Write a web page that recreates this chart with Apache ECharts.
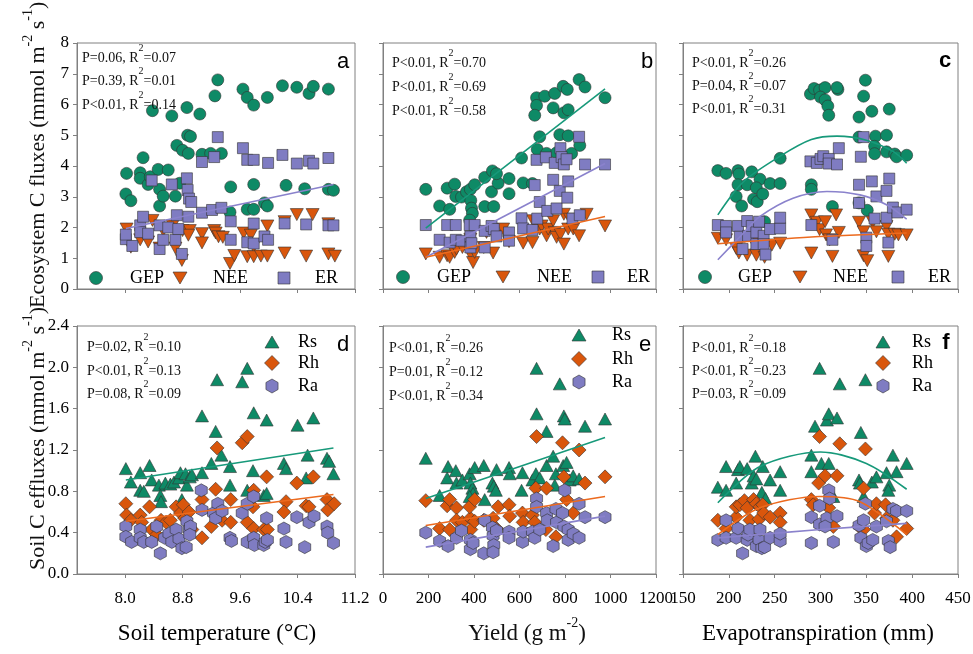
<!DOCTYPE html>
<html>
<head>
<meta charset="utf-8">
<title>Ecosystem and soil C fluxes</title>
<script src="https://cdn.jsdelivr.net/npm/echarts@6.0.0/dist/echarts.min.js"></script>
<style>
  html, body { margin: 0; padding: 0; background: #fff; }
  #chart { width: 973px; height: 654px; }
</style>
</head>
<body>
<div id="chart"></div>
<script>
// ---- tick labels ----
const tempTicks = [8.0, 8.8, 9.6, 10.4, 11.2];

// ---- panel a: soil temperature vs ecosystem C fluxes ----
const tempGEP = [[8.01,3.09],[8.02,3.76],[8.08,2.87],[8.21,3.78],[8.25,4.27],[8.21,3.60],[8.32,3.40],[8.35,3.65],[8.38,5.80],[8.46,3.89],[8.48,3.24],[8.48,2.70],[8.53,3.02],[8.60,3.87],[8.65,5.63],[8.70,3.02],[8.72,4.67],[8.76,3.44],[8.80,4.51],[8.86,5.90],[8.87,5.00],[8.88,4.41],[8.91,4.96],[9.04,5.69],[9.07,4.38],[9.19,4.41],[9.25,6.28],[9.29,6.80],[9.34,4.41],[9.47,3.32],[9.46,2.50],[9.64,6.50],[9.70,6.23],[9.70,2.59],[9.79,5.98],[9.79,3.40],[9.79,2.59],[9.94,2.80],[9.98,2.70],[9.98,6.23],[10.19,6.61],[10.24,3.37],[10.39,6.56],[10.50,3.26],[10.56,6.36],[10.62,6.59],[10.83,6.50],[10.83,3.24],[10.90,3.21]];
const tempNEE = [[8.02,1.95],[8.08,1.36],[8.21,1.60],[8.32,1.53],[8.38,2.23],[8.48,1.33],[8.53,1.90],[8.66,2.05],[8.70,1.33],[8.79,0.93],[8.80,1.90],[8.90,1.90],[8.88,1.75],[9.07,1.80],[9.07,1.50],[9.24,1.90],[9.26,1.82],[9.30,1.70],[9.36,1.68],[9.46,0.83],[9.52,1.09],[9.65,1.82],[9.70,1.05],[9.75,1.75],[9.79,1.38],[9.79,1.05],[9.89,1.07],[9.98,1.07],[9.98,2.05],[10.22,2.19],[10.22,1.17],[10.39,2.42],[10.52,1.07],[10.61,2.42],[10.83,2.12],[10.83,1.14],[10.92,1.07]];
const tempER = [[8.01,1.62],[8.01,1.77],[8.10,1.40],[8.21,2.07],[8.25,2.35],[8.21,1.85],[8.37,3.53],[8.32,1.80],[8.48,2.07],[8.48,1.30],[8.53,1.60],[8.60,2.00],[8.65,3.40],[8.70,1.60],[8.72,2.40],[8.74,1.95],[8.79,1.14],[8.86,3.60],[8.87,3.22],[8.89,2.94],[8.92,2.83],[8.88,2.35],[9.07,4.13],[9.07,2.48],[9.21,2.57],[9.24,4.29],[9.29,4.94],[9.34,2.64],[9.47,2.20],[9.47,1.60],[9.64,4.58],[9.70,4.20],[9.70,1.52],[9.79,4.20],[9.79,2.13],[9.79,1.48],[9.94,1.71],[9.99,4.10],[9.99,1.60],[10.19,4.36],[10.22,2.13],[10.39,4.08],[10.52,2.10],[10.56,4.17],[10.62,4.08],[10.83,4.26],[10.83,2.07],[10.90,2.07]];
const tempERFit = [[8.01,1.97],[10.90,3.40]];

// ---- panel b: yield vs ecosystem C fluxes ----
const yieldGEP = [[188,3.24],[249,2.70],[282,3.28],[293,2.59],[315,3.41],[320,3.01],[345,2.99],[367,3.16],[384,3.24],[386,2.88],[389,2.63],[393,2.46],[381,2.24],[403,3.39],[447,3.63],[447,2.68],[477,3.16],[481,3.84],[487,2.68],[506,3.44],[499,3.75],[554,3.59],[554,3.10],[609,4.26],[616,3.45],[657,3.43],[675,6.22],[675,5.97],[667,5.65],[678,4.54],[689,4.95],[711,6.27],[719,4.41],[748,5.89],[755,6.36],[763,4.43],[777,5.02],[792,6.59],[795,5.73],[810,6.49],[814,4.98],[814,5.83],[829,4.41],[862,6.81],[865,4.67],[888,6.57],[976,6.22]];
const yieldNEE = [[188,1.14],[249,1.03],[282,1.08],[293,1.03],[315,1.19],[323,1.30],[349,1.35],[384,1.14],[396,0.86],[403,1.19],[384,1.62],[443,1.35],[455,1.84],[484,1.17],[496,1.73],[528,1.95],[554,1.54],[616,1.49],[657,1.51],[660,2.22],[689,1.95],[697,2.05],[719,1.73],[726,1.95],[748,2.22],[755,1.84],[763,1.68],[780,1.78],[795,1.46],[795,2.43],[814,1.95],[822,2.27],[836,1.95],[862,1.73],[895,2.43],[976,2.05]];
const yieldER = [[188,2.08],[249,1.60],[282,2.08],[293,1.51],[320,2.08],[320,1.60],[345,1.57],[381,2.08],[384,1.71],[384,1.35],[389,1.49],[403,2.08],[447,1.89],[447,1.35],[477,2.05],[487,1.95],[499,1.71],[554,1.84],[554,1.57],[609,2.30],[616,1.97],[657,1.92],[667,3.38],[675,4.20],[678,2.29],[689,2.83],[716,4.28],[722,2.54],[748,3.55],[755,4.10],[763,2.62],[777,3.19],[780,4.58],[785,4.29],[795,4.05],[807,4.22],[810,2.97],[814,3.50],[833,2.29],[862,4.95],[865,2.40],[888,4.05],[976,4.05]];
const yieldGEPFit = [[188,1.98],[976,6.51]];
const yieldERFit = [[188,1.03],[976,4.08]];
const yieldNEEFit = [[188,1.03],[976,2.36]];

// ---- panel c: evapotranspiration vs ecosystem C fluxes ----
const etGEP = [[188,3.85],[197,3.76],[210,3.85],[211,3.74],[225,3.81],[234,3.57],[210,3.39],[220,3.39],[208,3.01],[214,2.70],[230,3.29],[227,2.92],[231,2.84],[237,3.09],[245,3.43],[256,3.43],[256,4.25],[239,2.19],[290,3.39],[290,3.24],[289,6.34],[293,6.52],[299,6.47],[305,6.55],[319,6.49],[318,6.55],[300,6.24],[305,6.15],[308,5.95],[309,5.65],[313,2.68],[342,5.59],[347,6.27],[349,6.79],[356,5.78],[375,5.85],[342,4.94],[360,4.97],[372,5.00],[359,4.64],[359,4.40],[372,4.46],[381,4.39],[383,4.30],[394,4.35],[342,2.80],[351,2.56]];
const etNEE = [[188,1.65],[197,1.60],[208,1.32],[211,1.17],[220,1.10],[227,1.53],[230,1.10],[237,1.32],[239,1.03],[247,1.43],[256,1.49],[290,2.41],[290,1.17],[296,2.17],[299,1.93],[305,2.19],[306,1.76],[310,1.60],[313,1.06],[317,2.41],[320,1.84],[342,2.17],[347,1.86],[347,1.08],[351,0.92],[357,2.17],[361,1.86],[372,2.03],[374,1.78],[374,1.06],[381,1.78],[385,1.76],[394,1.76]];
const etER = [[188,2.08],[197,2.05],[197,1.84],[210,2.05],[212,1.70],[215,1.30],[220,2.21],[221,1.73],[225,2.05],[230,1.84],[230,1.46],[233,2.19],[238,1.73],[238,1.46],[240,1.12],[245,1.95],[256,1.97],[256,2.32],[290,2.08],[289,4.15],[296,4.10],[300,4.23],[303,4.32],[309,4.23],[309,4.08],[318,4.05],[320,4.58],[313,1.60],[342,3.39],[344,4.30],[347,4.94],[342,2.80],[350,1.67],[350,1.40],[356,3.50],[361,3.01],[359,2.29],[372,3.19],[375,3.59],[372,2.32],[379,2.65],[384,2.49],[394,2.58],[374,1.51]];
const etGEPFit = [[188,2.41],[216,3.49],[256,4.32],[290,4.86],[318,4.97],[350,4.84],[380,4.46],[394,4.09]];
const etERFit = [[188,0.95],[216,1.82],[234,2.36],[270,2.95],[307,3.17],[343,3.06],[372,2.74],[394,2.27]];
const etNEEFit = [[188,1.47],[290,1.69],[394,1.82]];

// ---- panel d: soil temperature vs soil C effluxes ----
const tempRs = [[8.01,1.02],[8.08,0.89],[8.21,0.98],[8.21,0.81],[8.26,0.80],[8.34,1.05],[8.37,0.91],[8.47,0.86],[8.49,0.76],[8.50,0.70],[8.56,0.88],[8.63,0.87],[8.68,0.89],[8.75,0.93],[8.77,0.98],[8.79,0.72],[8.84,0.97],[8.86,0.86],[8.90,0.94],[8.93,0.96],[9.07,0.98],[9.07,1.53],[9.20,1.07],[9.26,1.38],[9.28,1.88],[9.34,1.15],[9.46,1.04],[9.46,0.86],[9.63,1.86],[9.70,1.99],[9.70,0.81],[9.78,1.00],[9.79,1.56],[9.93,0.76],[9.97,0.78],[9.97,1.49],[10.21,1.07],[10.24,1.02],[10.40,1.44],[10.52,0.93],[10.54,1.15],[10.62,1.51],[10.81,1.12],[10.84,1.09],[10.90,0.97]];
const tempRh = [[8.01,0.68],[8.02,0.57],[8.08,0.52],[8.21,0.57],[8.23,0.50],[8.34,0.65],[8.37,0.43],[8.44,0.38],[8.50,0.52],[8.57,0.50],[8.63,0.52],[8.71,0.65],[8.77,0.59],[8.81,0.67],[8.83,0.54],[8.89,0.60],[8.93,0.43],[9.07,0.72],[9.07,0.35],[9.20,0.46],[9.26,0.82],[9.28,1.22],[9.35,0.52],[9.47,0.50],[9.47,0.72],[9.63,1.27],[9.70,1.33],[9.70,0.50],[9.78,0.65],[9.79,0.81],[9.79,0.44],[9.93,0.43],[9.97,0.94],[9.98,0.43],[10.24,0.70],[10.21,0.60],[10.39,0.88],[10.52,0.66],[10.56,0.65],[10.62,0.94],[10.81,0.72],[10.82,0.62],[10.91,0.68]];
const tempRa = [[8.01,0.46],[8.01,0.36],[8.09,0.31],[8.21,0.43],[8.21,0.35],[8.26,0.31],[8.37,0.31],[8.44,0.46],[8.49,0.20],[8.55,0.35],[8.61,0.39],[8.65,0.31],[8.71,0.43],[8.75,0.34],[8.79,0.25],[8.85,0.26],[8.86,0.51],[8.89,0.43],[8.91,0.46],[8.90,0.38],[9.06,0.81],[9.07,0.62],[9.23,0.59],[9.26,0.54],[9.29,0.68],[9.35,0.61],[9.46,0.35],[9.48,0.32],[9.63,0.59],[9.70,0.68],[9.70,0.31],[9.79,0.75],[9.79,0.35],[9.80,0.28],[9.93,0.28],[9.95,0.31],[9.98,0.33],[9.97,0.54],[10.21,0.44],[10.24,0.31],[10.39,0.55],[10.50,0.26],[10.56,0.50],[10.63,0.56],[10.81,0.46],[10.82,0.40],[10.90,0.30]];
const tempRsFit = [[8.01,0.91],[10.90,1.22]];
const tempRhFit = [[8.01,0.51],[10.90,0.77]];

// ---- panel e: yield vs soil C effluxes ----
const yieldRs = [[188,1.12],[249,0.76],[286,1.04],[282,0.93],[320,1.00],[323,0.88],[349,0.91],[381,0.97],[384,0.88],[393,0.83],[396,0.78],[381,0.75],[403,1.03],[443,1.05],[447,0.72],[481,0.88],[487,0.85],[499,1.01],[496,0.81],[554,1.03],[557,0.97],[613,0.98],[609,0.81],[657,0.91],[675,1.99],[675,1.55],[672,0.97],[689,0.93],[719,1.38],[719,1.05],[748,1.14],[755,0.86],[760,0.97],[777,1.84],[795,1.53],[799,1.50],[792,1.05],[807,1.08],[821,0.91],[836,0.95],[862,0.92],[888,1.43],[976,1.50]];
const yieldRh = [[188,0.71],[249,0.44],[282,0.66],[293,0.43],[293,0.72],[323,0.64],[323,0.52],[349,0.50],[384,0.54],[381,0.65],[386,0.43],[403,0.72],[403,0.51],[443,0.52],[484,0.54],[499,0.44],[506,0.65],[554,0.67],[557,0.56],[613,0.59],[616,0.50],[657,0.57],[667,0.50],[675,1.33],[672,0.83],[719,0.83],[716,0.43],[760,0.36],[789,1.27],[795,0.94],[807,0.72],[836,0.59],[862,1.20],[888,0.88],[976,0.94]];
const yieldRa = [[188,0.40],[249,0.32],[286,0.27],[323,0.35],[345,0.42],[384,0.33],[384,0.24],[396,0.30],[443,0.20],[447,0.52],[481,0.45],[484,0.37],[487,0.28],[484,0.21],[499,0.42],[554,0.41],[554,0.35],[613,0.31],[616,0.41],[657,0.41],[667,0.35],[675,0.73],[675,0.65],[689,0.43],[719,0.59],[722,0.52],[748,0.27],[760,0.63],[763,0.50],[789,0.59],[799,0.81],[795,0.46],[814,0.43],[814,0.33],[836,0.39],[862,0.35],[862,0.68],[888,0.55],[976,0.55]];
const yieldRsFit = [[188,0.73],[976,1.32]];
const yieldRhFit = [[188,0.47],[976,0.75]];
const yieldRaFit = [[188,0.26],[976,0.56]];

// ---- panel f: evapotranspiration vs soil C effluxes ----
const etRs = [[188,0.84],[197,0.81],[197,1.04],[208,0.88],[210,1.01],[212,1.04],[220,1.02],[225,0.88],[227,0.95],[230,0.92],[229,1.14],[237,1.04],[236,0.79],[240,0.73],[245,0.91],[256,0.99],[256,0.81],[290,1.15],[290,0.99],[294,1.43],[299,1.99],[301,1.07],[307,1.49],[309,1.55],[309,1.07],[318,1.51],[321,1.84],[314,0.75],[342,0.91],[344,1.37],[343,0.88],[349,1.88],[347,0.75],[356,0.89],[361,0.94],[372,0.98],[375,0.86],[374,0.81],[379,1.15],[383,0.99],[394,1.07]];
const etRh = [[188,0.52],[197,0.44],[208,0.55],[208,0.65],[212,0.67],[217,0.71],[220,0.64],[223,0.52],[227,0.72],[230,0.68],[234,0.65],[237,0.67],[233,0.53],[238,0.59],[245,0.55],[256,0.59],[256,0.50],[290,0.72],[292,0.67],[299,1.33],[298,0.88],[305,0.95],[309,0.64],[318,0.95],[321,1.26],[314,0.46],[342,0.46],[347,0.83],[349,1.21],[347,0.43],[359,0.59],[361,0.68],[371,0.67],[372,0.54],[379,0.52],[383,0.36],[394,0.44]];
const etRa = [[188,0.33],[197,0.52],[197,0.35],[208,0.35],[210,0.44],[215,0.20],[220,0.33],[221,0.38],[223,0.43],[230,0.27],[233,0.33],[236,0.25],[234,0.43],[239,0.26],[245,0.35],[256,0.32],[256,0.39],[290,0.30],[290,0.55],[299,0.66],[299,0.48],[307,0.54],[309,0.81],[310,0.73],[314,0.31],[318,0.56],[305,0.46],[342,0.47],[344,0.35],[347,0.52],[349,0.68],[350,0.27],[352,0.30],[357,0.33],[361,0.46],[372,0.51],[374,0.32],[376,0.26],[379,0.63],[383,0.61],[394,0.61]];
const etRsFit = [[188,0.69],[234,1.04],[300,1.18],[350,1.07],[394,0.82]];
const etRhFit = [[188,0.38],[234,0.64],[299,0.75],[343,0.70],[394,0.38]];
const etRaFit = [[188,0.35],[300,0.43],[394,0.49]];

// ---- regression statistics (P, R2) ----
const statsA = [['P=0.06', '0.07'], ['P=0.39', '0.01'], ['P<0.01', '0.14']];
const statsB = [['P<0.01', '0.70'], ['P<0.01', '0.69'], ['P<0.01', '0.58']];
const statsC = [['P<0.01', '0.26'], ['P=0.04', '0.07'], ['P<0.01', '0.31']];
const statsD = [['P=0.02', '0.10'], ['P<0.01', '0.13'], ['P=0.08', '0.09']];
const statsE = [['P<0.01', '0.26'], ['P=0.01', '0.12'], ['P<0.01', '0.34']];
const statsF = [['P<0.01', '0.18'], ['P<0.01', '0.23'], ['P=0.03', '0.09']];

// colours
const GREEN = '#0e8a66', ORANGE = '#d9560c', PURPLE = '#7f7cc2';
const GREEN_L = '#17997a', ORANGE_L = '#ec6a1e', PURPLE_L = '#8a82cc';
const SERIF = "'Liberation Serif', 'DejaVu Serif', serif";
const SANS = "'Liberation Sans', Arial, sans-serif";
const FRAME = '#808080';

const DIAMOND = 'path://M0,-1L1,0L0,1L-1,0Z';
const HEXAGON = 'path://M0,-1L0.866,-0.5L0.866,0.5L0,1L-0.866,0.5L-0.866,-0.5Z';

const SYM = {
  GEP: { symbol: 'circle', size: 12, rotate: 0, color: GREEN },
  NEE: { symbol: 'triangle', size: [13, 12], rotate: 180, color: ORANGE },
  ER: { symbol: 'rect', size: 11, rotate: 0, color: PURPLE },
  Rs: { symbol: 'triangle', size: [13, 12], rotate: 0, color: GREEN },
  Rh: { symbol: DIAMOND, size: 14, rotate: 0, color: ORANGE },
  Ra: { symbol: HEXAGON, size: [12, 13], rotate: 0, color: PURPLE },
};

// layout of the six plots
const grids = [
  { left: 77, top: 43, width: 278, height: 246 },
  { left: 383, top: 43, width: 273, height: 246 },
  { left: 683, top: 43, width: 275, height: 246 },
  { left: 77, top: 326, width: 278, height: 248 },
  { left: 383, top: 326, width: 273, height: 248 },
  { left: 683, top: 326, width: 275, height: 248 },
].map(g => Object.assign(g, {
  show: true, borderColor: FRAME, borderWidth: 1, backgroundColor: 'transparent',
  outerBoundsMode: 'none',
}));

function xAxisFor(gi, kind, showLabel) {
  const ax = {
    gridIndex: gi, type: 'value',
    axisLine: { lineStyle: { color: FRAME } },
    axisTick: { inside: false, length: 4, lineStyle: { color: FRAME } },
    splitLine: { show: false },
    axisLabel: {
      show: showLabel, color: '#000', fontFamily: SERIF, fontSize: 17, margin: 16,
      formatter: v => String(v),
    },
  };
  if (kind === 'temp') {
    ax.min = 7.33; ax.max = 11.2;
    ax.axisLabel.customValues = tempTicks;
    ax.axisLabel.formatter = v => v.toFixed(1);
    ax.axisTick.customValues = tempTicks;
  } else if (kind === 'yield') {
    ax.min = 0; ax.max = 1200; ax.interval = 200;
  } else {
    ax.min = 150; ax.max = 450; ax.interval = 50;
  }
  return ax;
}

function yAxisFor(gi, top, showLabel) {
  return {
    gridIndex: gi, type: 'value',
    min: 0, max: top ? 8 : 2.4, interval: top ? 1 : 0.4,
    axisLine: { show: true, lineStyle: { color: FRAME } },
    axisTick: { show: true, inside: false, length: 4, lineStyle: { color: FRAME } },
    splitLine: { show: false },
    axisLabel: {
      show: showLabel, color: '#000', fontFamily: SERIF, fontSize: 17, margin: 8,
      formatter: v => top ? String(v) : v.toFixed(1),
    },
  };
}

const xAxes = [
  xAxisFor(0, 'temp', false), xAxisFor(1, 'yield', false), xAxisFor(2, 'et', false),
  xAxisFor(3, 'temp', true), xAxisFor(4, 'yield', true), xAxisFor(5, 'et', true),
];
const yAxes = [
  yAxisFor(0, true, true), yAxisFor(1, true, false), yAxisFor(2, true, false),
  yAxisFor(3, false, true), yAxisFor(4, false, false), yAxisFor(5, false, false),
];

function scatter(key, data, gi) {
  const s = SYM[key];
  return {
    name: key, type: 'scatter', xAxisIndex: gi, yAxisIndex: gi, data: data,
    symbol: s.symbol, symbolSize: s.size, symbolRotate: s.rotate,
    itemStyle: { color: s.color, borderColor: '#333', borderWidth: 0.6, opacity: 1 },
    z: 2,
  };
}

function fit(data, gi, color, smooth) {
  return {
    type: 'line', xAxisIndex: gi, yAxisIndex: gi, data: data,
    showSymbol: false, symbol: 'none', smooth: smooth ? 0.3 : false,
    lineStyle: { color: color, width: 1.6 }, z: 4, silent: true,
  };
}

const series = [
  scatter('GEP', tempGEP, 0), scatter('NEE', tempNEE, 0), scatter('ER', tempER, 0),
  fit(tempERFit, 0, PURPLE_L),
  scatter('GEP', yieldGEP, 1), scatter('NEE', yieldNEE, 1), scatter('ER', yieldER, 1),
  fit(yieldGEPFit, 1, GREEN_L), fit(yieldERFit, 1, PURPLE_L), fit(yieldNEEFit, 1, ORANGE_L),
  scatter('GEP', etGEP, 2), scatter('NEE', etNEE, 2), scatter('ER', etER, 2),
  fit(etGEPFit, 2, GREEN_L, true), fit(etERFit, 2, PURPLE_L, true), fit(etNEEFit, 2, ORANGE_L, true),
  scatter('Rs', tempRs, 3), scatter('Rh', tempRh, 3), scatter('Ra', tempRa, 3),
  fit(tempRsFit, 3, GREEN_L), fit(tempRhFit, 3, ORANGE_L),
  scatter('Rs', yieldRs, 4), scatter('Rh', yieldRh, 4), scatter('Ra', yieldRa, 4),
  fit(yieldRsFit, 4, GREEN_L), fit(yieldRhFit, 4, ORANGE_L), fit(yieldRaFit, 4, PURPLE_L),
  scatter('Rs', etRs, 5), scatter('Rh', etRh, 5), scatter('Ra', etRa, 5),
  fit(etRsFit, 5, GREEN_L, true), fit(etRhFit, 5, ORANGE_L, true), fit(etRaFit, 5, PURPLE_L, true),
];

// ---- text and legend graphics ----
// n = normal text (sits at line bottom), s = superscript (sits at line top)
const supRich = (base, sup, lh) => ({
  n: { fontFamily: SERIF, fontSize: base, lineHeight: lh, verticalAlign: 'bottom', fill: '#111' },
  s: { fontFamily: SERIF, fontSize: sup, lineHeight: sup, verticalAlign: 'top', fill: '#111' },
});

function statTexts(stats, x, ys) {
  return stats.map((st, i) => ({
    type: 'text', x: x, y: ys[i] - 4, z: 10,
    style: {
      text: '{n|' + st[0] + ', R}{s|2}{n|=' + st[1] + '}',
      rich: supRich(14, 10, 22),
      textAlign: 'left', textVerticalAlign: 'middle',
    },
  }));
}

function txt(x, y, s, size, font, align, weight) {
  return {
    type: 'text', x: x, y: y, z: 10,
    style: {
      text: s, fill: '#000', fontFamily: font, fontSize: size, fontWeight: weight || 'normal',
      textAlign: align || 'left', textVerticalAlign: 'middle',
    },
  };
}

function mark(key, cx, cy) {
  const s = SYM[key];
  const st = { fill: s.color, stroke: '#333', lineWidth: 0.6 };
  if (key === 'GEP') return { type: 'circle', shape: { cx: cx, cy: cy, r: 6.5 }, style: st, z: 10 };
  if (key === 'ER') return { type: 'rect', shape: { x: cx - 6, y: cy - 6, width: 12, height: 12 }, style: st, z: 10 };
  if (key === 'NEE') return { type: 'polygon', shape: { points: [[cx - 7, cy - 6], [cx + 7, cy - 6], [cx, cy + 6]] }, style: st, z: 10 };
  if (key === 'Rs') return { type: 'polygon', shape: { points: [[cx - 7, cy + 6], [cx + 7, cy + 6], [cx, cy - 6]] }, style: st, z: 10 };
  if (key === 'Rh') return { type: 'polygon', shape: { points: [[cx, cy - 7.5], [cx + 7.5, cy], [cx, cy + 7.5], [cx - 7.5, cy]] }, style: st, z: 10 };
  const h = [];
  for (let k = 0; k < 6; k++) {
    const a = Math.PI / 2 + k * Math.PI / 3;
    h.push([cx + 7 * Math.cos(a), cy - 7 * Math.sin(a)]);
  }
  return { type: 'polygon', shape: { points: h }, style: st, z: 10 };
}

function topLegend(xs, y) {
  return [
    mark('GEP', xs[0], y), txt(xs[1], y, 'GEP', 18, SERIF),
    mark('NEE', xs[2], y), txt(xs[3], y, 'NEE', 18, SERIF),
    mark('ER', xs[4], y), txt(xs[5], y, 'ER', 18, SERIF),
  ];
}

function bottomLegend(mx, tx, ys) {
  return [
    mark('Rs', mx, ys[0]), txt(tx, ys[0], 'Rs', 18, SERIF),
    mark('Rh', mx, ys[1]), txt(tx, ys[1], 'Rh', 18, SERIF),
    mark('Ra', mx, ys[2]), txt(tx, ys[2], 'Ra', 18, SERIF),
  ];
}

const graphics = [].concat(
  statTexts(statsA, 82, [58, 81, 105]),
  statTexts(statsB, 392, [63, 87, 111]),
  statTexts(statsC, 692, [63, 86, 109]),
  statTexts(statsD, 87, [347, 371, 394]),
  statTexts(statsE, 389, [348, 372, 396]),
  statTexts(statsF, 692, [348, 371, 394]),
  topLegend([96, 130, 180, 213, 284, 315], 278),
  topLegend([403, 437, 503, 537, 598, 627], 277),
  topLegend([705, 738, 800, 833, 898, 928], 277),
  bottomLegend(272, 298, [342, 363, 386]),
  bottomLegend(579, 612, [335, 359, 382]),
  bottomLegend(883, 912, [342, 363, 386]),
  [
    txt(343, 62, 'a', 22, SANS, 'center'),
    txt(647, 62, 'b', 22, SANS, 'center'),
    txt(945, 61, 'c', 22, SANS, 'center', 'bold'),
    txt(343, 345, 'd', 22, SANS, 'center'),
    txt(645, 345, 'e', 22, SANS, 'center'),
    txt(946, 343, 'f', 22, SANS, 'center', 'bold'),
    txt(217, 634, 'Soil temperature (°C)', 23, SERIF, 'center'),
    {
      type: 'text', x: 527, y: 631, z: 10,
      style: {
        text: '{n|Yield (g m}{s|-2}{n|)}', rich: supRich(23, 14, 29),
        textAlign: 'center', textVerticalAlign: 'middle',
      },
    },
    txt(818, 634, 'Evapotranspiration (mm)', 23, SERIF, 'center'),
    {
      type: 'text', x: 35, y: 308, rotation: Math.PI / 2, z: 10,
      style: {
        text: '{n|Ecosystem C fluxes (mmol m}{s|-2}{n| s}{s|-1}{n|)}', rich: supRich(22, 14, 28),
        textAlign: 'left', textVerticalAlign: 'middle',
      },
    },
    {
      type: 'text', x: 35, y: 570, rotation: Math.PI / 2, z: 10,
      style: {
        text: '{n|Soil C effluxes (mmol m}{s|-2}{n| s}{s|-1}{n|)}', rich: supRich(22, 14, 28),
        textAlign: 'left', textVerticalAlign: 'middle',
      },
    },
  ]
);

const chart = echarts.init(document.getElementById('chart'), null, { renderer: 'canvas' });
chart.setOption({
  animation: false,
  backgroundColor: '#fff',
  grid: grids,
  xAxis: xAxes,
  yAxis: yAxes,
  series: series,
  graphic: graphics,
});
window.addEventListener('resize', function () { chart.resize(); });
</script>
</body>
</html>
